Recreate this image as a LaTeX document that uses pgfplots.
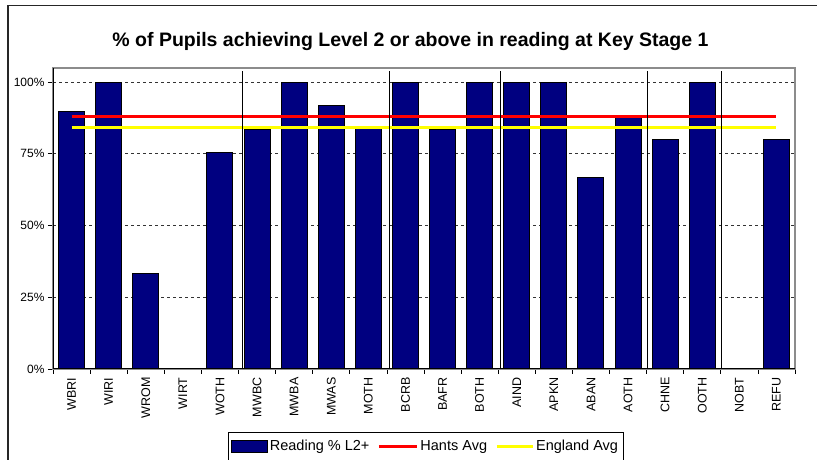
\documentclass[border=0pt]{standalone}
\usepackage{pgfplots}
\pgfplotsset{compat=1.18}
\usepackage{fontspec}
\setmainfont{Liberation Sans}
\definecolor{navy}{RGB}{0,0,128}
\definecolor{ylw}{RGB}{255,255,0}
\begin{document}
\begin{tikzpicture}
\path[use as bounding box] (0pt,0pt) rectangle (827pt,460pt);
\clip (0pt,0pt) rectangle (827pt,460pt);
\fill[white] (0pt,0pt) rectangle (827pt,460pt);
\draw[line width=1.6pt, black!85] (8pt,-2pt) -- (8pt,454.5pt) -- (817pt,454.5pt);
\node[anchor=base] at (410.5pt,413pt) {\bfseries\fontsize{19.5}{23}\selectfont \% of Pupils achieving Level 2 or above in reading at Key Stage 1};
\begin{axis}[
  at={(53pt,91pt)}, anchor=south west,
  width=742pt, height=301pt, scale only axis,
  xmin=-0.5, xmax=19.5, ymin=0, ymax=104.9,
  xtick={-0.5,0.5,...,19.5},
  x tick label as interval,
  xticklabels={WBRI,WIRI,WROM,WIRT,WOTH,MWBC,MWBA,MWAS,MOTH,BCRB,BAFR,BOTH,AIND,APKN,ABAN,AOTH,CHNE,OOTH,NOBT,REFU},
  x tick label style={rotate=90, anchor=east, font=\fontsize{12.5}{14}\selectfont},
  ytick={0,25,50,75,100},
  yticklabels={0\%,25\%,50\%,75\%,100\%},
  y tick label style={font=\fontsize{12}{14}\selectfont},
  xtick pos=bottom, ytick pos=left,
  tick align=outside, major tick length=5pt,
  tick style={black, line width=0.8pt},
  ymajorgrids,
  major grid style={black!80, dash pattern=on 3pt off 3pt, line width=0.8pt},
  axis line style={black!45, line width=1.3pt},
  legend style={at={(0.502,-0.2093)}, anchor=north, draw=black, line width=0.8pt,
    font=\fontsize{14.5}{17}\selectfont, inner xsep=3pt, inner ysep=6pt,
    nodes={inner sep=2pt},
    /tikz/every even column/.append style={column sep=6pt}},
  legend columns=3, legend cell align=left,
]
\addplot[ybar, bar width=26pt, fill=navy, draw=black, line width=1pt,
  legend image code/.code={\draw[fill=navy, draw=black, line width=1pt] (0pt,-6pt) rectangle (36pt,6pt);}]
  coordinates {(0,89.7) (1,100) (2,33.3) (3,0) (4,75.5) (5,83.3) (6,100) (7,91.7) (8,84.6) (9,100)
  (10,83.3) (11,100) (12,100) (13,100) (14,66.7) (15,87.5) (16,80) (17,100) (18,0) (19,80)};
\addlegendentry{Reading \% L2+}
\addplot[red, line width=3pt, sharp plot, mark=none,
  legend image code/.code={\draw[red, line width=3pt] (0pt,0pt) -- (38pt,0pt);}]
  coordinates {(0,87.9) (1,87.9) (2,87.9) (3,87.9) (4,87.9) (5,87.9) (6,87.9) (7,87.9) (8,87.9) (9,87.9)
  (10,87.9) (11,87.9) (12,87.9) (13,87.9) (14,87.9) (15,87.9) (16,87.9) (17,87.9) (18,87.9) (19,87.9)};
\addlegendentry{Hants Avg}
\addplot[ylw, line width=3pt, sharp plot, mark=none,
  legend image code/.code={\draw[ylw, line width=3pt] (0pt,0pt) -- (36pt,0pt);}]
  coordinates {(0,84.0) (1,84.0) (2,84.0) (3,84.0) (4,84.0) (5,84.0) (6,84.0) (7,84.0) (8,84.0) (9,84.0)
  (10,84.0) (11,84.0) (12,84.0) (13,84.0) (14,84.0) (15,84.0) (16,84.0) (17,84.0) (18,84.0) (19,84.0)};
\addlegendentry{England Avg}
\draw[black, line width=1.2pt] (axis cs:4.61,0) -- (axis cs:4.61,103.8);
\draw[black, line width=1.2pt] (axis cs:8.58,0) -- (axis cs:8.58,103.8);
\draw[black, line width=1.2pt] (axis cs:11.56,0) -- (axis cs:11.56,103.8);
\draw[black, line width=1.2pt] (axis cs:15.53,0) -- (axis cs:15.53,103.8);
\draw[black, line width=1.2pt] (axis cs:17.52,0) -- (axis cs:17.52,103.8);
\draw[black, line width=1pt] (rel axis cs:0,1) -- (rel axis cs:0,0) -- (rel axis cs:1,0);
\end{axis}
\end{tikzpicture}
\end{document}
